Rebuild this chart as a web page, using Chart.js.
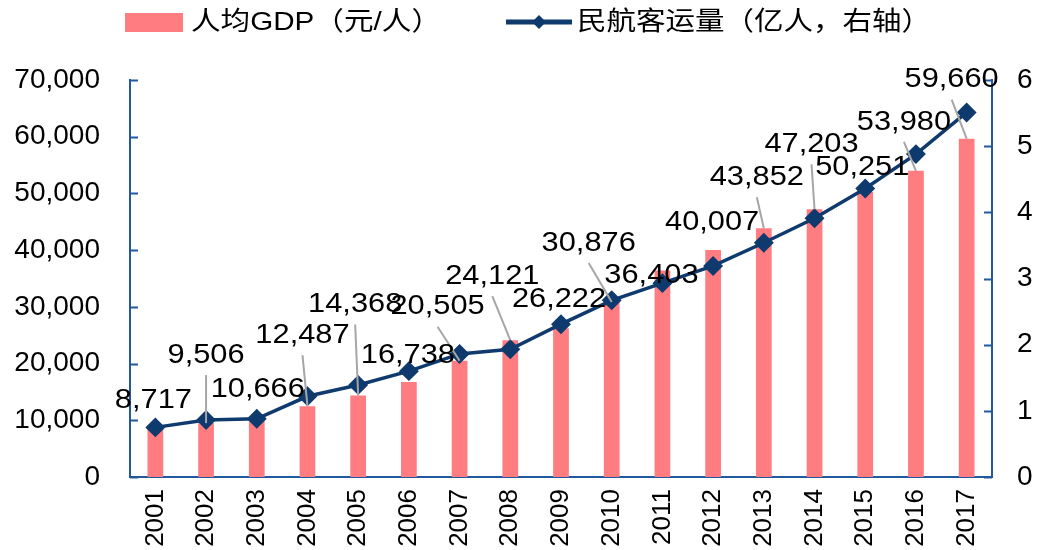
<!DOCTYPE html>
<html>
<head>
<meta charset="utf-8">
<script src="https://cdn.jsdelivr.net/npm/chart.js@4.4.0/dist/chart.umd.min.js"></script>
<style>
  html, body { margin: 0; padding: 0; background: #fff; }
  #wrap { width: 1039px; height: 550px; }
</style>
</head>
<body>
<div id="wrap"><canvas id="chart" width="1039" height="550"></canvas></div>
<script>
const years = ['2001', '2002', '2003', '2004', '2005', '2006', '2007', '2008', '2009',
  '2010', '2011', '2012', '2013', '2014', '2015', '2016', '2017'];
const gdpPerCapita = [8717, 9506, 10666, 12487, 14368, 16738, 20505, 24121, 26222,
  30876, 36403, 40007, 43852, 47203, 50251, 53980, 59660];
const passengers = [0.75, 0.86, 0.88, 1.22, 1.39, 1.60, 1.86, 1.93, 2.31,
  2.67, 2.93, 3.19, 3.54, 3.91, 4.36, 4.88, 5.51];
const leftMax = 70000;
const rightMax = 6;
const legendLabels = ['人均GDP（元/人）', '民航客运量（亿人，右轴）'];

// where each value label sits, relative to its bar top (px)
const labelDx = [-2, 0, 1, -5, -3, -1, -22, -18, -2, -23, -11, -1, -7, -3, -3, -12, -15];
const labelDy = [-27, -68, -27, -71, -91, -27, -54, -64, -29, -59, 5, -28, -51, -65, -25, -49, -59];

const BAR = '#FF7C80';
const NAVY = '#0E3A6E';
const AXIS = '#2159A0';
const FONT = '"Liberation Sans", Arial, "Noto Sans CJK SC", sans-serif';

const fmt = v => v.toLocaleString('en-US');

function fillStretched(ctx, text, x, y, w) {
  const m = ctx.measureText(text).width;
  ctx.save();
  ctx.translate(x, y);
  ctx.scale(w / m, 1);
  ctx.fillText(text, 0, 0);
  ctx.restore();
}

const extras = {
  id: 'extras',
  afterDraw(chart) {
    const { ctx } = chart;
    const yL = chart.scales.y;
    const yR = chart.scales.y2;
    ctx.save();

    // inside tick marks
    ctx.strokeStyle = AXIS;
    ctx.lineWidth = 2;
    yL.ticks.forEach(t => {
      const py = Math.round(yL.getPixelForValue(t.value)) + 0.5;
      ctx.beginPath(); ctx.moveTo(yL.right, py); ctx.lineTo(yL.right + 8, py); ctx.stroke();
    });
    yR.ticks.forEach(t => {
      const py = Math.round(yR.getPixelForValue(t.value)) + 0.5;
      ctx.beginPath(); ctx.moveTo(yR.left, py); ctx.lineTo(yR.left - 8, py); ctx.stroke();
    });

    // value labels with leader lines
    const bars = chart.getDatasetMeta(1).data;
    ctx.font = '28px ' + FONT;
    ctx.textBaseline = 'middle';
    bars.forEach((bar, i) => {
      const lx = bar.x + labelDx[i];
      const ly = bar.y + labelDy[i];
      if (labelDy[i] < -40) {
        ctx.strokeStyle = '#A6A6A6';
        ctx.lineWidth = 2;
        ctx.beginPath();
        ctx.moveTo(lx, ly + 20);
        ctx.lineTo(bar.x, bar.y);
        ctx.stroke();
      }
    });
    ctx.fillStyle = '#000';
    ctx.textAlign = 'left';
    bars.forEach((bar, i) => {
      const text = fmt(gdpPerCapita[i]);
      const lx = bar.x + labelDx[i];
      const ly = bar.y + labelDy[i];
      const w = ctx.measureText(text).width * 1.1;
      fillStretched(ctx, text, lx - w / 2, ly, w);
    });

    // legend
    ctx.fillStyle = BAR;
    ctx.fillRect(125, 13, 58, 19);
    ctx.font = '26px ' + FONT;
    ctx.fillStyle = '#000';
    ctx.textAlign = 'left';
    ctx.textBaseline = 'middle';
    fillStretched(ctx, legendLabels[0], 191, 23, 250);

    ctx.strokeStyle = NAVY;
    ctx.lineWidth = 5;
    ctx.beginPath(); ctx.moveTo(506, 22); ctx.lineTo(572, 22); ctx.stroke();
    ctx.fillStyle = NAVY;
    ctx.beginPath();
    ctx.moveTo(539, 15); ctx.lineTo(546, 22); ctx.lineTo(539, 29); ctx.lineTo(532, 22);
    ctx.closePath(); ctx.fill();
    ctx.fillStyle = '#000';
    fillStretched(ctx, legendLabels[1], 577, 23, 354);

    ctx.restore();
  }
};

new Chart(document.getElementById('chart'), {
  data: {
    labels: years,
    datasets: [
      {
        type: 'line',
        label: legendLabels[1],
        data: passengers,
        yAxisID: 'y2',
        order: 0,
        borderColor: NAVY,
        backgroundColor: NAVY,
        borderWidth: 3.5,
        pointStyle: 'rectRot',
        pointRadius: 7.5,
        pointBackgroundColor: NAVY,
        pointBorderColor: NAVY,
        tension: 0,
      },
      {
        type: 'bar',
        label: legendLabels[0],
        data: gdpPerCapita,
        yAxisID: 'y',
        order: 1,
        backgroundColor: BAR,
        categoryPercentage: 1,
        barPercentage: 0.31,
      },
    ],
  },
  options: {
    responsive: false,
    animation: false,
    devicePixelRatio: 1,
    layout: { padding: { top: 80, left: 0, right: 0, bottom: 0 } },
    plugins: {
      legend: { display: false },
      tooltip: { enabled: false },
    },
    scales: {
      x: {
        grid: { display: false, drawTicks: false },
        border: { display: true, color: AXIS, width: 2 },
        ticks: {
          color: '#000',
          font: { size: 26, family: FONT },
          minRotation: 90,
          maxRotation: 90,
          padding: 12,
        },
        afterFit(s) { s.height = 73; },
      },
      y: {
        position: 'left',
        min: 0,
        max: leftMax,
        grid: { display: false, drawTicks: false },
        border: { display: true, color: AXIS, width: 2 },
        ticks: {
          stepSize: 10000,
          color: '#000',
          font: { size: 28, family: FONT },
          padding: 30,
          callback: v => fmt(v),
        },
        afterFit(s) { s.width = 130; },
      },
      y2: {
        position: 'right',
        min: 0,
        max: rightMax,
        grid: { display: false, drawTicks: false },
        border: { display: true, color: AXIS, width: 2 },
        ticks: {
          stepSize: 1,
          color: '#000',
          font: { size: 28, family: FONT },
          padding: 25,
        },
        afterFit(s) { s.width = 47; },
      },
    },
  },
  plugins: [extras],
});
</script>
</body>
</html>
